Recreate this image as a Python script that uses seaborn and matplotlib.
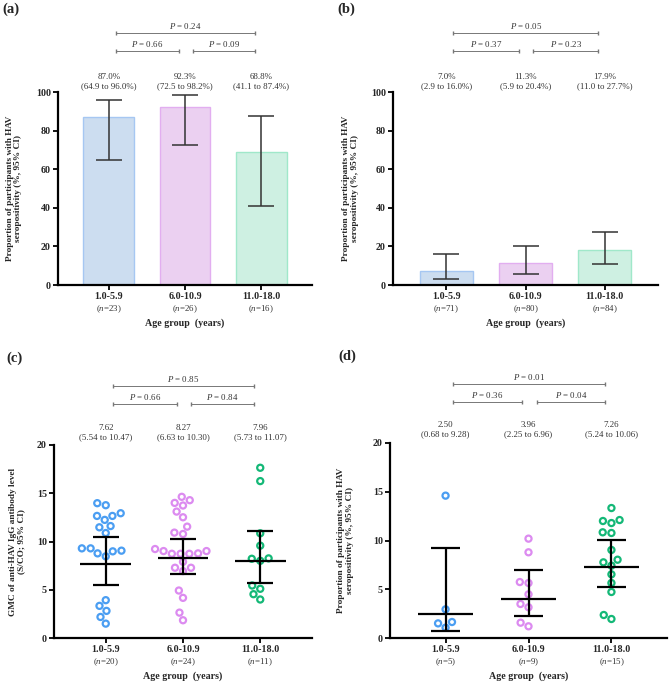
import numpy as np
import pandas as pd
import matplotlib
matplotlib.use("Agg")
import matplotlib.pyplot as plt
import matplotlib.transforms as mtransforms
import seaborn as sns

# ---- data ----
groups = ["1.0-5.9", "6.0-10.9", "11.0-18.0"]

# (a) seropositivity, cohort 1
a_pct = [87.0, 92.3, 68.8]
a_lo = [64.9, 72.5, 41.1]
a_hi = [96.0, 98.2, 87.4]
a_n = [23, 26, 16]
a_p = [0.66, 0.09, 0.24]   # 1 vs 2, 2 vs 3, 1 vs 3

# (b) seropositivity, cohort 2
b_pct = [7.0, 11.3, 17.9]
b_lo = [2.9, 5.9, 11.0]
b_hi = [16.0, 20.4, 27.7]
b_n = [71, 80, 84]
b_p = [0.37, 0.23, 0.05]

# (c) individual S/CO values + GMC
c_g1 = [13.97, 13.76, 12.65, 12.93, 12.65, 12.24, 11.6, 11.47, 10.88, 9.29,
        9.05, 9.29, 8.77, 8.98, 8.46, 3.92, 3.33, 2.18, 2.81, 1.49]
c_g2 = [14.0, 14.63, 13.73, 13.1, 14.28, 12.51, 11.54, 10.78, 10.92, 9.01,
        8.73, 8.77, 9.22, 8.73, 8.73, 9.01, 7.28, 7.9, 7.28, 6.93,
        4.92, 4.16, 2.63, 1.84]
c_g3 = [17.64, 16.26, 10.85, 9.57, 8.21, 8.25, 8.0, 5.1, 5.44, 3.99, 4.54]
c_gmc = [7.62, 8.27, 7.96]
c_lo = [5.54, 6.63, 5.73]
c_hi = [10.47, 10.30, 11.07]
c_n = [20, 24, 11]
c_p = [0.66, 0.84, 0.85]

# (d)
d_g1 = [14.6, 2.94, 1.64, 1.06, 1.5]
d_g2 = [10.19, 8.79, 5.74, 5.64, 4.48, 3.15, 3.49, 1.2, 1.57]
d_g3 = [13.33, 12.0, 12.1, 11.79, 10.84, 10.77, 9.03, 8.03, 7.76, 7.42,
        6.53, 5.64, 4.72, 1.95, 2.36]
d_gmc = [2.50, 3.96, 7.26]
d_lo = [0.68, 2.25, 5.24]
d_hi = [9.28, 6.96, 10.06]
d_n = [5, 9, 15]
d_p = [0.36, 0.04, 0.01]

bar_fill = ["#c6dcf6", "#efcaf6", "#c8f6e3"]
bar_edge = ["#a6c7f2", "#e2aef0", "#a0e8ca"]
dot_colors = ["#4b9ef2", "#dc8bf0", "#14b877"]

prop_label = "Proportion of participants with HAV\nseropositivity (%, 95% CI)"
gmc_label = "GMC of anti-HAV IgG antibody level\n(S/CO; 95% CI)"

# ---- style ----
sns.set_style("ticks")
plt.rcParams["font.family"] = ["Liberation Serif", "DejaVu Serif"]
plt.rcParams["mathtext.fontset"] = "custom"
plt.rcParams["mathtext.rm"] = "Liberation Serif"
plt.rcParams["mathtext.it"] = "Liberation Serif:italic"

W, H = 669, 682
fig = plt.figure(figsize=(W / 100, H / 100), dpi=100)
FS = 6.4
TICK_FS = 7.2


def add_ax(l, r, t, b):
    return fig.add_axes([l / W, 1 - b / H, (r - l) / W, (b - t) / H])


def shifted(ax, dy_px, xdata=True):
    base = ax.get_xaxis_transform() if xdata else ax.transAxes
    return base + mtransforms.ScaledTranslation(0, dy_px / 100, fig.dpi_scale_trans)


def style_axis(ax, ylim, yticks, ns, ylabel, label_x):
    ax.set_xlim(-0.67, 2.67)
    ax.set_ylim(*ylim)
    ax.set_yticks(yticks)
    ax.set_xticks(range(3))
    ax.set_xticklabels(groups, fontweight="bold")
    ax.set_yticklabels([str(t) for t in yticks], fontweight="bold")
    ax.tick_params(direction="out", length=3.6, width=1.3, labelsize=TICK_FS,
                   pad=1.5, color="black")
    sns.despine(ax=ax)
    for s in ["left", "bottom"]:
        ax.spines[s].set_linewidth(1.6)
        ax.spines[s].set_color("black")
    ax.set_xlabel("")
    ax.set_ylabel(ylabel, fontsize=FS + 0.3, fontweight="bold", linespacing=1.1)
    ax.yaxis.set_label_coords(label_x, 0.5)
    for i, n in enumerate(ns):
        ax.text(i, 0, f"($\\mathit{{n}}$={n})", transform=shifted(ax, -24),
                ha="center", va="center", fontsize=FS, color="#333333")
    ax.text(0.5, 0, "Age group  (years)", transform=shifted(ax, -38, xdata=False),
            ha="center", va="center", fontsize=TICK_FS, fontweight="bold")


def add_top(ax, texts, gap):
    for i, s in enumerate(texts):
        ax.text(i, 1, s, transform=shifted(ax, gap), ha="center", va="bottom",
                fontsize=FS, color="#333333", linespacing=1.2, clip_on=False)


def add_brackets(ax, pvals):
    spans = [(0.09, 0.92, 41), (1.1, 1.92, 41), (0.09, 1.92, 59)]
    for (x1, x2, dy), p in zip(spans, pvals):
        tr = shifted(ax, dy)
        ax.plot([x1, x2], [1, 1], transform=tr, color="#777777", lw=0.7,
                marker="|", markersize=2.5, clip_on=False)
        ax.text((x1 + x2) / 2, 1, f"$P$ = {p:.2f}", transform=shifted(ax, dy + 2),
                ha="center", va="bottom", fontsize=FS, color="#333333")


def bar_panel(ax, pct, lo, hi, ns, pvals, label_x):
    df = pd.DataFrame({"group": groups, "pct": pct})
    sns.barplot(data=df, x="group", y="pct", hue="group", order=groups,
                palette=bar_fill, width=0.67, legend=False, ax=ax)
    for patch, ec in zip(ax.patches, bar_edge):
        patch.set_edgecolor(ec)
        patch.set_linewidth(1.0)
    ax.errorbar(range(3), pct,
                yerr=[np.subtract(pct, lo), np.subtract(hi, pct)],
                fmt="none", ecolor="#333333", elinewidth=1.1, capsize=9.4,
                capthick=1.1, zorder=4)
    style_axis(ax, (0, 100), [0, 20, 40, 60, 80, 100], ns, prop_label, label_x)
    add_top(ax, [f"{v:.1f}%\n({l:.1f} to {h:.1f}%)" for v, l, h in zip(pct, lo, hi)], 2)
    add_brackets(ax, pvals)


def dot_panel(ax, vals, gmc, lo, hi, ns, pvals, ylabel, label_x, gap):
    df = pd.DataFrame({"group": np.repeat(groups, [len(v) for v in vals]),
                       "val": np.concatenate(vals)})
    sns.swarmplot(data=df, x="group", y="val", hue="group", order=groups,
                  palette=dot_colors, size=4.4, linewidth=1.6, legend=False,
                  ax=ax)
    for coll in ax.collections:
        fc = coll.get_facecolors()
        coll.set_edgecolors(fc)
        coll.set_facecolors("none")
    x = np.arange(3)
    ax.vlines(x, lo, hi, color="black", lw=1.6, zorder=5)
    ax.hlines(gmc, x - 0.33, x + 0.33, color="black", lw=1.6, zorder=5)
    ax.hlines(lo, x - 0.17, x + 0.17, color="black", lw=1.6, zorder=5)
    ax.hlines(hi, x - 0.17, x + 0.17, color="black", lw=1.6, zorder=5)
    style_axis(ax, (0, 20), [0, 5, 10, 15, 20], ns, ylabel, label_x)
    add_top(ax, [f"{v:.2f}\n({l:.2f} to {h:.2f})" for v, l, h in zip(gmc, lo, hi)], gap)
    add_brackets(ax, pvals)


ax_a = add_ax(58, 312, 92, 285)
ax_b = add_ax(393, 658, 92, 285)
ax_c = add_ax(54, 312, 445, 638)
ax_d = add_ax(390, 667, 443, 638)

bar_panel(ax_a, a_pct, a_lo, a_hi, a_n, a_p, -0.14)
bar_panel(ax_b, b_pct, b_lo, b_hi, b_n, b_p, -0.13)
dot_panel(ax_c, [c_g1, c_g2, c_g3], c_gmc, c_lo, c_hi, c_n, c_p,
          gmc_label, -0.11, 4)
dot_panel(ax_d, [d_g1, d_g2, d_g3], d_gmc, d_lo, d_hi, d_n, d_p,
          prop_label, -0.13, 5)

# panel letters
for lab, px, py in [("(a)", 2, 9), ("(b)", 337, 9), ("(c)", 6, 358), ("(d)", 338, 356)]:
    fig.text(px / W, 1 - py / H, lab, fontsize=10.5, fontweight="bold",
             ha="left", va="center")

fig.savefig("out.png", dpi=100)
